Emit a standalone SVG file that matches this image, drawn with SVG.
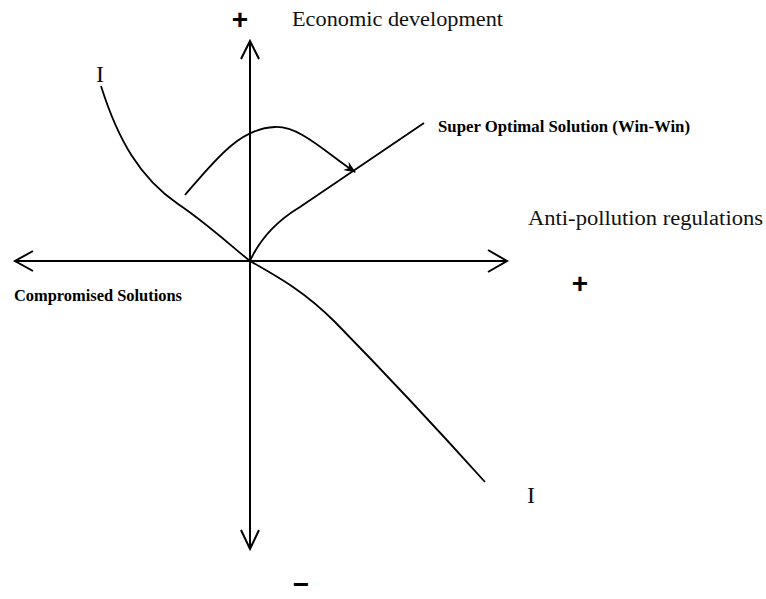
<svg xmlns="http://www.w3.org/2000/svg" width="766" height="599" viewBox="0 0 766 599">
<style>
.ax{fill:none;stroke:#000;stroke-width:2}
.cv{fill:none;stroke:#000;stroke-width:1.8}
.lbl{font-family:"Liberation Serif",serif;font-size:20px;fill:#111}
.bold{font-family:"Liberation Serif",serif;font-size:16.5px;font-weight:bold;fill:#000}
.sign{font-family:"Liberation Sans",sans-serif;font-size:28px;font-weight:bold;fill:#000;text-anchor:middle}
.roman{font-family:"Liberation Serif",serif;font-size:24px;fill:#111}
</style>
<defs>
<marker id="ah" viewBox="0 0 12 10" refX="11" refY="5" markerWidth="12" markerHeight="10" markerUnits="userSpaceOnUse" orient="auto">
<path d="M0,0 L12,5 L0,10 L4,5 z" fill="#000"/>
</marker>
</defs>
<rect width="766" height="599" fill="#fff"/>
<g id="connectors">
<path class="ax" d="M250,41 V549"/>
<path class="ax" d="M241,59 L250,41 L259,59"/>
<path class="ax" d="M241,530 L250,549 L259,530"/>
<path class="ax" d="M15,261 H507"/>
<path class="ax" d="M33,251 L15,261 L33,271"/>
<path class="ax" d="M488,250 L507,261 L488,272"/>
<path id="curve-I" class="cv" d="M101,86 C118,140 140,178 178,204 C205,222 230,245 250,261 C280,278 305,292 335,322 C380,368 440,432 485,482"/>
<path id="super-line" class="cv" d="M250,261 Q265,228 300,207 L424,123"/>
<path id="move-arrow" class="cv" d="M185,195 C215,160 240,128 275,127 C300,126 325,152 355,172" marker-end="url(#ah)"/>
</g>
<g id="labels">
<text class="sign" x="240" y="29">+</text>
<text class="lbl" x="292" y="26" textLength="211" lengthAdjust="spacingAndGlyphs">Economic development</text>
<text class="bold" x="438" y="132" textLength="252" lengthAdjust="spacingAndGlyphs">Super Optimal Solution (Win-Win)</text>
<text class="lbl" x="528" y="225" textLength="235" lengthAdjust="spacingAndGlyphs">Anti-pollution regulations</text>
<text class="sign" x="580" y="293">+</text>
<text class="bold" x="14" y="301" textLength="168" lengthAdjust="spacingAndGlyphs">Compromised Solutions</text>
<text class="roman" x="96" y="82">I</text>
<text class="roman" x="527" y="503">I</text>
<text class="sign" x="301" y="594" font-size="26">−</text>
</g>
</svg>
